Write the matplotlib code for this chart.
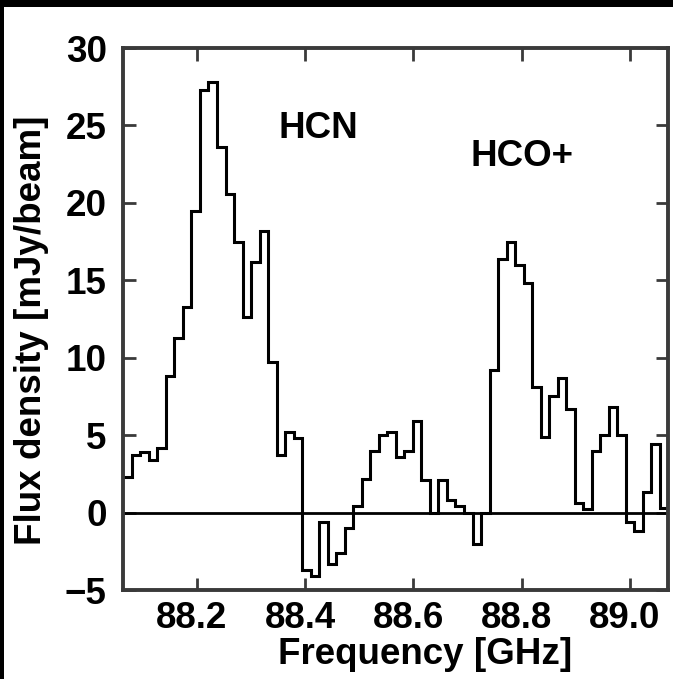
import numpy as np
import matplotlib
matplotlib.use("Agg")
import matplotlib.pyplot as plt
import matplotlib.transforms as mtransforms
from matplotlib.patches import Rectangle

# Spectrum: channel fluxes (mJy/beam), uniform channels
flux = [2.3, 3.7, 3.9, 3.4, 4.2, 8.8, 11.3, 13.3, 19.5, 27.3,
        27.8, 23.6, 20.6, 17.5, 12.6, 16.2, 18.2, 9.7, 3.7, 5.2,
        4.8, -3.7, -4.1, -0.6, -3.3, -2.6, -1.0, 0.4, 2.2, 4.0,
        5.0, 5.2, 3.6, 4.0, 5.9, 2.1, 0.0, 2.1, 0.8, 0.4,
        -0.05, -2.0, 0.0, 9.2, 16.4, 17.5, 16.0, 14.8, 8.1, 4.9,
        7.5, 8.7, 6.7, 0.6, 0.2, 4.0, 5.0, 6.8, 5.0, -0.6,
        -1.2, 1.3, 4.4, 0.3]
f_start = 88.0643      # GHz, first channel edge
chan_width = 0.015728  # GHz
xticks = [88.2, 88.4, 88.6, 88.8, 89.0]
yticks = [-5, 0, 5, 10, 15, 20, 25, 30]
lines = ["HCN", "HCO+"]
line_pos = [(88.424, 24.8), (88.800, 23.0)]

edges = f_start + chan_width * np.arange(len(flux) + 1)

W, H = 673, 679
fig = plt.figure(figsize=(W / 100, H / 100), dpi=100, facecolor='white')
plt.rcParams['font.family'] = ['Liberation Sans', 'DejaVu Sans']
ax = fig.add_axes([123.3 / W, 1 - 590 / H, (668.3 - 123.3) / W, (590 - 48) / H])
ax.set_facecolor('white')

ax.stairs(flux, edges, color='black', lw=2.2, baseline=None)
ax.axhline(0, color='black', lw=2.0)

ax.set_xlim(88.0643, 89.0707)
ax.set_ylim(-5, 30)
ax.set_xticks(xticks)
ax.set_yticks(yticks)
ax.set_xticklabels([f"{t:.1f}" for t in xticks])
ax.set_yticklabels([("\u2212" + str(-t)) if t < 0 else str(t) for t in yticks])

for s in ax.spines.values():
    s.set_color('#3a3a3a')
    s.set_linewidth(2.8)

ax.tick_params(axis='both', which='major', direction='in', length=9, width=2,
               color='#3a3a3a', top=True, right=True, labelsize=26.5)
ax.tick_params(axis='x', pad=8)
ax.tick_params(axis='y', pad=12)
shift = mtransforms.ScaledTranslation(-5 / 100, 0, fig.dpi_scale_trans)
for lab in ax.get_xticklabels():
    lab.set_fontweight('bold')
    lab.set_transform(lab.get_transform() + shift)
for lab in ax.get_yticklabels():
    lab.set_fontweight('bold')

for name, (x, y) in zip(lines, line_pos):
    ax.text(x, y, name, fontsize=26.5, fontweight='bold', ha='center', va='center')

fig.text(425 / W, 1 - 655 / H, "Frequency [GHz]", fontsize=26.5, fontweight='bold',
         ha='center', va='center')
fig.text(32 / W, 1 - 330 / H, "Flux density [mJy/beam]", fontsize=26.5, fontweight='bold',
         ha='center', va='center', rotation=90)

# black scan border (top and left)
fig.add_artist(Rectangle((0, 1 - 7 / H), 1, 7 / H, transform=fig.transFigure,
                         facecolor='black', edgecolor='none', zorder=10))
fig.add_artist(Rectangle((0, 0), 3.5 / W, 1, transform=fig.transFigure,
                         facecolor='black', edgecolor='none', zorder=10))

fig.savefig("out.png", dpi=100, facecolor='white')
